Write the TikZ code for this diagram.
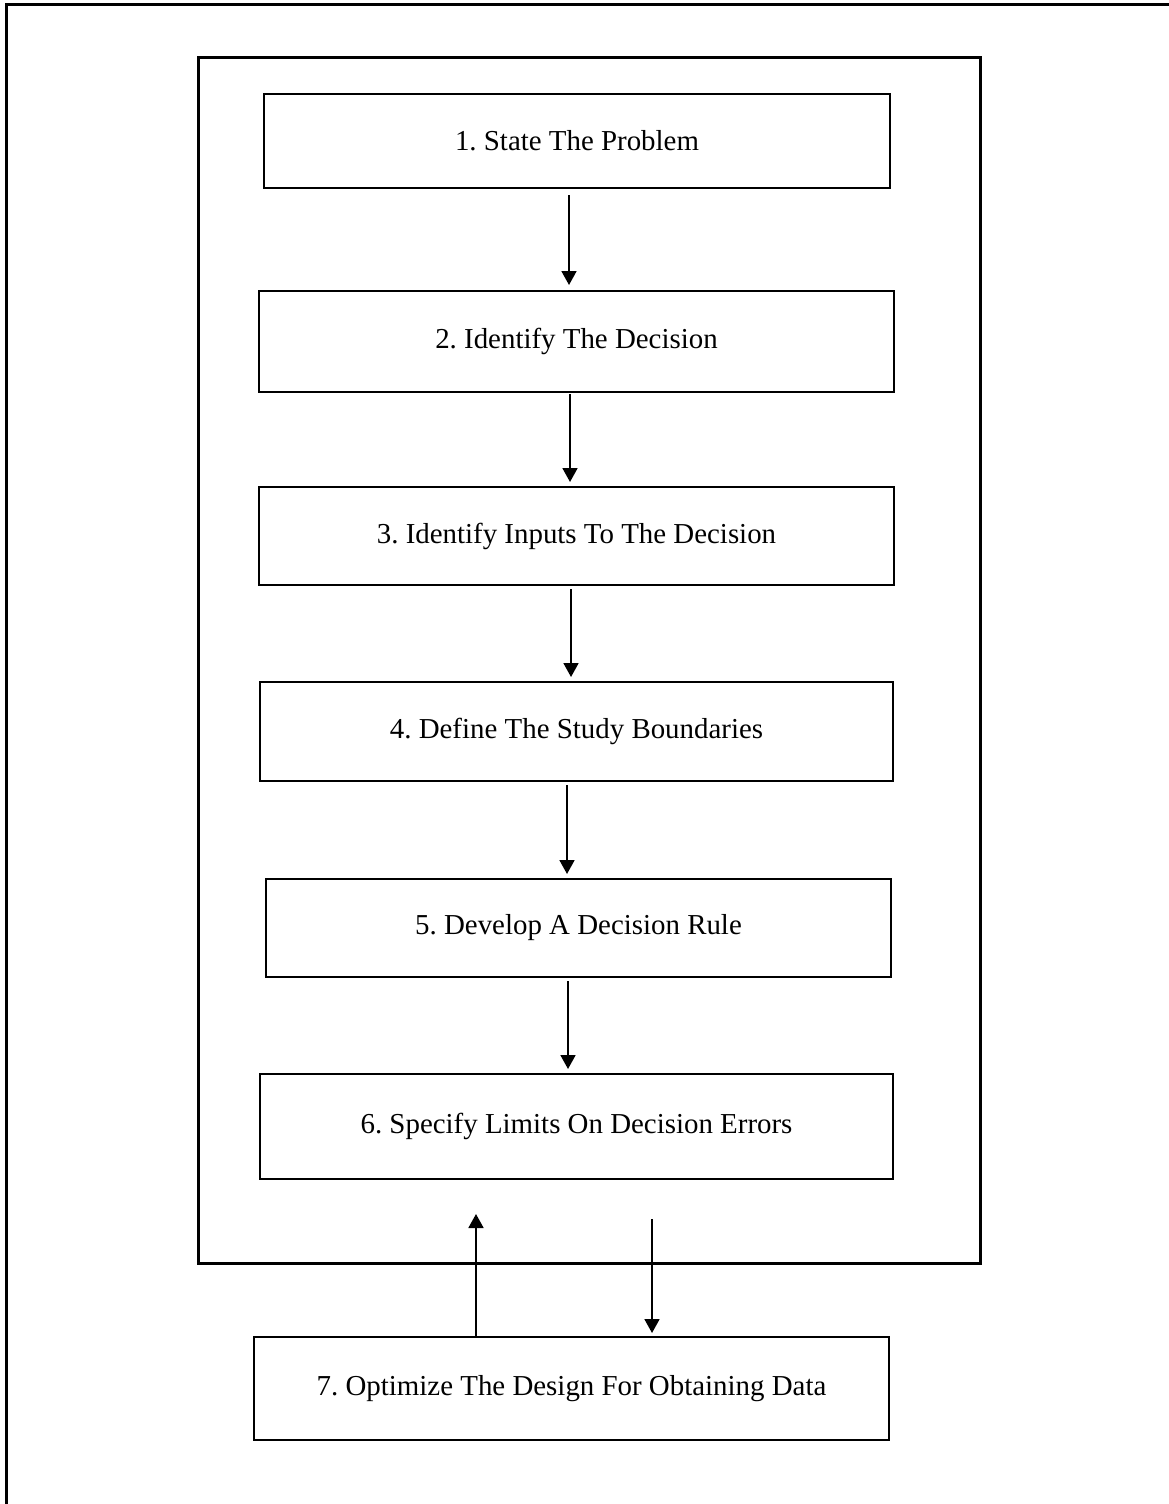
\documentclass[tikz,border=0pt]{standalone}
\usepackage{fontspec}
\setmainfont{Liberation Serif}
\usetikzlibrary{arrows.meta}
\frenchspacing
\begin{document}
\begin{tikzpicture}[x=1pt,y=-1pt,
  stepbox/.style={draw,line width=2pt,minimum width=#1,inner sep=0pt,
    font=\fontsize{28.9}{34}\selectfont\frenchspacing},
  arr/.style={line width=1.8pt,-{Triangle[width=15pt,length=14pt]}},
  frame/.style={line width=3pt}]
\useasboundingbox (0,0) rectangle (1169,1504);
% outer page frame (only top and left edges visible)
\draw[line width=2.2pt] (6.5,1510) -- (6.5,4.5) -- (1175,4.5);
% inner frame
\draw[frame] (198,58) rectangle (980,1263);
% steps
\node[stepbox=626pt,minimum height=94pt]  (b1) at (577,141)    {1. State The Problem};
\node[stepbox=635pt,minimum height=101pt] (b2) at (576.5,341.5) {2. Identify The Decision};
\node[stepbox=635pt,minimum height=98pt]  (b3) at (576.5,536)   {3. Identify Inputs To The Decision};
\node[stepbox=633pt,minimum height=99pt]  (b4) at (576.5,731.5) {4. Define The Study Boundaries};
\node[stepbox=625pt,minimum height=98pt]  (b5) at (578.5,928)   {5. Develop A Decision Rule};
\node[stepbox=633pt,minimum height=105pt] (b6) at (576.5,1126.5) {6. Specify Limits On Decision Errors};
\node[stepbox=635pt,minimum height=103pt] (b7) at (571.5,1388.5) {7. Optimize The Design For Obtaining Data};
% arrow x positions
\coordinate (x1) at (569,0);
\coordinate (x2) at (570,0);
\coordinate (x3) at (571,0);
\coordinate (x4) at (567,0);
\coordinate (x5) at (568,0);
\coordinate (xu) at (476,0);
\coordinate (upend) at (476,1214);
\coordinate (downstart) at (652,1219);
\draw[arr,shorten <=6pt,shorten >=5pt] (b1.south -| x1) -- (b2.north -| x1);
\draw[arr,shorten <=1pt,shorten >=4pt] (b2.south -| x2) -- (b3.north -| x2);
\draw[arr,shorten <=3pt,shorten >=4pt] (b3.south -| x3) -- (b4.north -| x3);
\draw[arr,shorten <=3pt,shorten >=4pt] (b4.south -| x4) -- (b5.north -| x4);
\draw[arr,shorten <=3pt,shorten >=4pt] (b5.south -| x5) -- (b6.north -| x5);
\draw[arr] (b7.north -| xu) -- (upend);
\draw[arr,shorten >=3pt] (downstart) -- (b7.north -| downstart);
\end{tikzpicture}
\end{document}
